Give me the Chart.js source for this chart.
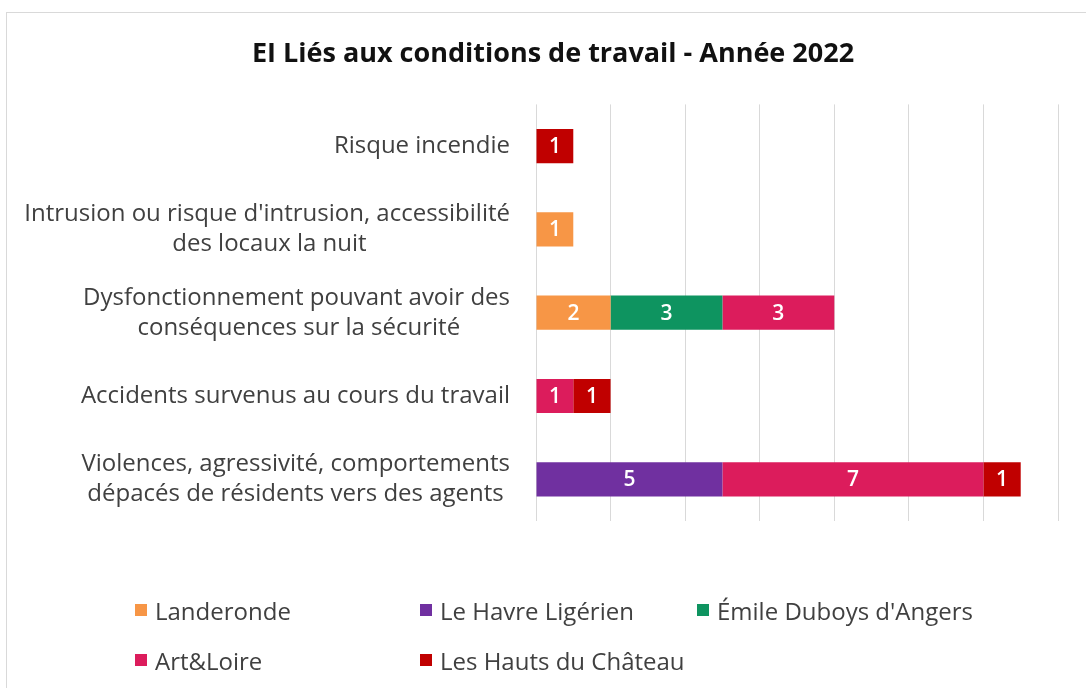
<!DOCTYPE html>
<html><head><meta charset="utf-8">
<script src="https://cdn.jsdelivr.net/npm/chart.js@4"></script>
<style>
html,body{margin:0;padding:0;background:#fff;overflow:hidden;width:1086px;height:688px;}
#frame{position:absolute;left:6px;top:12px;width:1110px;height:700px;border:1px solid #d9d9d9;box-sizing:border-box;}
#wrap{position:absolute;left:6px;top:12px;width:1094px;height:676px;}
#legend{position:absolute;left:0;top:0;width:1086px;height:688px;font-family:"Open Sans",sans-serif;font-size:24px;color:#404040;pointer-events:none}
.item{position:absolute;display:flex;align-items:center;white-space:nowrap;height:30px;margin-top:-15px}
.sw{width:12px;height:12px;margin-right:8px;flex:none}
</style>
</head><body>
<div id="frame"></div>
<div id="wrap"><canvas id="c"></canvas></div>
<div id="legend"></div>
<script>
const chartTitle = "EI Liés aux conditions de travail - Année 2022";
const categories = [
  ["Risque incendie"],
  ["Intrusion ou risque d'intrusion, accessibilité", "des locaux la nuit"],
  ["Dysfonctionnement pouvant avoir des", "conséquences sur la sécurité"],
  ["Accidents survenus au cours du travail"],
  ["Violences, agressivité, comportements", "dépacés de résidents vers des agents"]
];
const seriesNames = ["Landeronde", "Le Havre Ligérien", "Émile Duboys d'Angers", "Art&Loire", "Les Hauts du Château"];
const landeronde = [0, 1, 2, 0, 0];
const leHavreLigerien = [0, 0, 0, 0, 5];
const emileDuboys = [0, 0, 3, 0, 0];
const artLoire = [0, 0, 3, 1, 7];
const lesHautsDuChateau = [1, 0, 0, 1, 1];
const seriesValues = [landeronde, leHavreLigerien, emileDuboys, artLoire, lesHautsDuChateau];
const seriesColors = ["#F79646", "#7030A0", "#0E9460", "#DC1C5C", "#C00000"];

const FONT = "'Open Sans', sans-serif";
const tickFont = {family: FONT, size: 24, lineHeight: 1.25};

const valueLabels = {
  id: 'valueLabels',
  afterDatasetsDraw(chart) {
    const ctx = chart.ctx;
    ctx.save();
    ctx.font = "600 21px " + FONT;
    ctx.fillStyle = "#ffffff";
    ctx.textAlign = "center";
    ctx.textBaseline = "middle";
    chart.data.datasets.forEach((ds, i) => {
      const meta = chart.getDatasetMeta(i);
      meta.data.forEach((el, j) => {
        const v = ds.data[j];
        if (!v) return;
        const p = el.getProps(['x', 'y', 'base'], true);
        ctx.fillText(String(v), (p.x + p.base) / 2, p.y + 1);
      });
    });
    ctx.restore();
  }
};

const ctxC = document.getElementById('c');
new Chart(ctxC, {
  type: 'bar',
  data: {
    labels: categories,
    datasets: seriesNames.map((n, i) => ({
      label: n,
      data: seriesValues[i],
      backgroundColor: seriesColors[i],
      borderWidth: 0,
      categoryPercentage: 1,
      barPercentage: 0.41
    }))
  },
  options: {
    indexAxis: 'y',
    responsive: true,
    maintainAspectRatio: false,
    animation: false,
    layout: {padding: {left: 0, right: 0, top: 0, bottom: 167}},
    plugins: {
      legend: {display: false},
      tooltip: {enabled: false},
      title: {
        display: true,
        text: chartTitle,
        color: "#111111",
        font: {family: FONT, size: 27, weight: 'bold', lineHeight: 1.2},
        padding: {top: 26, bottom: 34}
      }
    },
    scales: {
      x: {
        stacked: true,
        min: 0, max: 14,
        ticks: {display: false, stepSize: 2},
        grid: {color: "#d9d9d9", lineWidth: 1, drawTicks: false},
        border: {display: false}
      },
      y: {
        stacked: true,
        grid: {display: false, drawTicks: false},
        border: {display: false},
        ticks: {
          color: "#404040",
          font: tickFont,
          padding: 26,
          autoSkip: false,
          callback: function(value) {
            const lines = categories[value];
            if (lines.length < 2) return lines;
            const c = this.chart.ctx;
            c.save();
            c.font = "24px " + FONT;
            const widths = lines.map(l => c.measureText(l).width);
            const sp = c.measureText(" ").width;
            c.restore();
            const maxW = Math.max(...widths);
            return lines.map((l, k) => l + " ".repeat(Math.round((maxW - widths[k]) / 2 / sp)));
          }
        },
        afterFit(scale) { scale.width = 530; }
      },
      rightGap: {
        type: 'linear',
        position: 'right',
        display: true,
        grid: {display: false, drawTicks: false},
        border: {display: false},
        ticks: {display: false},
        afterFit(scale) { scale.width = 42; }
      }
    }
  },
  plugins: [valueLabels]
});

// HTML legend built from the series arrays
const legendEl = document.getElementById('legend');
const legendCols = [135, 420, 697];
const legendRows = [610, 660];
seriesNames.forEach((n, i) => {
  const d = document.createElement('div');
  d.className = 'item';
  d.style.left = legendCols[i % 3] + 'px';
  d.style.top = legendRows[Math.floor(i / 3)] + 'px';
  const s = document.createElement('span');
  s.className = 'sw';
  s.style.background = seriesColors[i];
  const t = document.createElement('span');
  t.textContent = n;
  d.appendChild(s); d.appendChild(t);
  legendEl.appendChild(d);
});
</script>
</body></html>
